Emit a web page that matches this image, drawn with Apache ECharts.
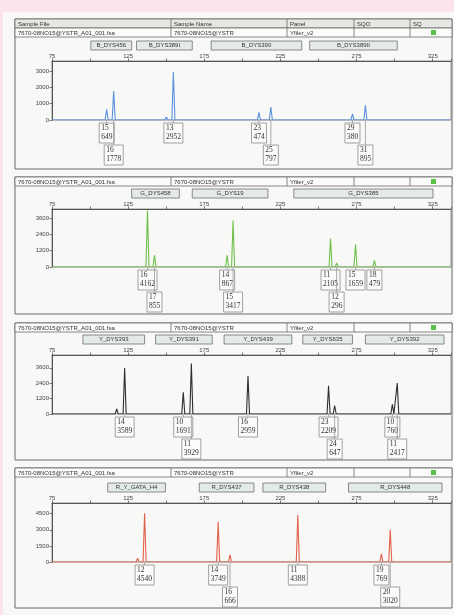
<!DOCTYPE html>
<html><head><meta charset="utf-8">
<script src="https://cdn.jsdelivr.net/npm/echarts@6/dist/echarts.min.js"></script>
<style>html,body{margin:0;padding:0;background:#f8f8f6}#c{width:454px;height:615px}</style>
</head><body><div id="c"></div><script>
// ---------- data ----------
const headerTitles = ['Sample File','Sample Name','Panel','SQO','SQ'];
const sampleFile = '7670-08NO15@YSTR_A01_001.fsa';
const sampleName = '7670-08NO15@YSTR';
const panelName = 'Yfiler_v2';
const xTickLabels = [75,125,175,225,275,325];

const p1YTicks = [0,1000,2000,3000];
const p1Markers = ['B_DYS456','B_DYS389I','B_DYS390','B_DYS389II'];
const p1MarkerStart = [100.5,130.5,179.5,244.2];
const p1MarkerEnd = [127.3,167.1,239.0,301.7];
const p1PeakBp = [110.9,115.5,150.1,154.7,210.9,218.7,272.3,276.2,280.8];
const p1PeakRfu = [649,1778,180,2952,474,797,380,120,895];
const p1Allele = ['15','16',null,'13','23','25','29',null,'31'];

const p2YTicks = [0,1200,2400,3600];
const p2Markers = ['G_DYS458','G_DYS19','G_DYS385'];
const p2MarkerStart = [127.3,167.1,233.8];
const p2MarkerEnd = [158.6,216.8,325.2];
const p2PeakBp = [133.8,137.7,142.3,190.0,193.9,257.9,261.9,274.3,286.7];
const p2PeakRfu = [120,4162,855,867,3417,2105,296,1659,479];
const p2Allele = [null,'16','17','14','15','11','12','15','18'];

const p3YTicks = [0,1200,2400,3600];
const p3Markers = ['Y_DYS393','Y_DYS391','Y_DYS439','Y_DYS635','Y_DYS392'];
const p3MarkerStart = [95.3,143.0,188.0,239.7,280.8];
const p3MarkerEnd = [135.8,180.2,232.5,272.3,332.4];
const p3PeakBp = [117.5,122.7,161.2,166.5,203.7,253.0,256.6,260.6,298.5,301.7];
const p3PeakRfu = [400,3589,1691,3929,2959,80,2209,647,760,2417];
const p3Allele = [null,'14','10','11','16',null,'23','24','10','11'];

const p4YTicks = [0,1500,3000,4500];
const p4Markers = ['R_Y_GATA_H4','R_DYS437','R_DYS438','R_DYS448'];
const p4MarkerStart = [111.6,171.7,213.5,269.7];
const p4MarkerEnd = [149.5,207.6,254.7,331.1];
const p4PeakBp = [131.2,135.8,184.1,191.9,231.8,236.4,291.3,297.1];
const p4PeakRfu = [350,4540,3749,666,70,4388,769,3020];
const p4Allele = [null,'12','14','16',null,'11','19','20'];

// ---------- layout / style ----------
const panels = [
  {yTicks:p1YTicks, markers:p1Markers, mStart:p1MarkerStart, mEnd:p1MarkerEnd, bp:p1PeakBp, rfu:p1PeakRfu, allele:p1Allele,
   color:'#5b92dc', frameTop:19, frameBottom:169, rowTop:28, header:true, plotTop:61, plotBottom:120, ymax:3620},
  {yTicks:p2YTicks, markers:p2Markers, mStart:p2MarkerStart, mEnd:p2MarkerEnd, bp:p2PeakBp, rfu:p2PeakRfu, allele:p2Allele,
   color:'#6fbf4b', frameTop:177, frameBottom:314, rowTop:177, header:false, plotTop:209, plotBottom:267, ymax:4270},
  {yTicks:p3YTicks, markers:p3Markers, mStart:p3MarkerStart, mEnd:p3MarkerEnd, bp:p3PeakBp, rfu:p3PeakRfu, allele:p3Allele,
   color:'#2e2e2e', frameTop:323, frameBottom:460, rowTop:323, header:false, plotTop:355, plotBottom:414, ymax:4600},
  {yTicks:p4YTicks, markers:p4Markers, mStart:p4MarkerStart, mEnd:p4MarkerEnd, bp:p4PeakBp, rfu:p4PeakRfu, allele:p4Allele,
   color:'#e3604b', frameTop:468, frameBottom:608, rowTop:468, header:false, plotTop:503, plotBottom:562, ymax:5500},
];
const PLOT_LEFT = 52, PLOT_RIGHT = 452, X_MIN = 75, X_MAX = 337;
const colX = [15,171,287,354,410,452];
const ROW_H = 9;
const SANS = '"Liberation Sans", Arial, sans-serif';
const SERIF = '"Liberation Serif", "Times New Roman", serif';
const PEAK_HALF = 1.0;

const grids = [], xAxes = [], yAxes = [], series = [], graphics = [];

// page edges (pink)
graphics.push({type:'rect', shape:{x:0,y:0,width:454,height:12}, style:{fill:'#fbe4ee'}, z:0});
graphics.push({type:'rect', shape:{x:0,y:0,width:3,height:615}, style:{fill:'#fbe4ee'}, z:0});

panels.forEach((p, i) => {
  // frame
  graphics.push({type:'rect', shape:{x:colX[0], y:p.frameTop, width:colX[5]-colX[0], height:p.frameBottom-p.frameTop},
    style:{fill:'none', stroke:'#6a6a6a', lineWidth:1}, z:1});
  // table rows
  const rows = [];
  if (p.header) rows.push({y:p.frameTop, vals:headerTitles, fill:'#e6e6e3'});
  rows.push({y:p.rowTop, vals:[sampleFile, sampleName, panelName, '', ''], fill:'#fbfbf9'});
  rows.forEach(r => {
    graphics.push({type:'rect', shape:{x:colX[0], y:r.y, width:colX[5]-colX[0], height:ROW_H},
      style:{fill:r.fill, stroke:'#6a6a6a', lineWidth:0.8}, z:2});
    for (let c = 1; c < colX.length - 1; c++) {
      graphics.push({type:'line', shape:{x1:colX[c], y1:r.y, x2:colX[c], y2:r.y+ROW_H},
        style:{stroke:'#6a6a6a', lineWidth:0.8}, z:3});
    }
    r.vals.forEach((t, c) => {
      if (!t) return;
      graphics.push({type:'text', x:colX[c]+3, y:r.y+ROW_H/2+0.5,
        style:{text:t, fontSize:6, fontFamily:SANS, fill:'#333', align:'left', verticalAlign:'middle'}, z:4});
    });
  });
  // SQ indicator
  graphics.push({type:'rect', shape:{x:431, y:p.rowTop+2, width:5, height:5}, style:{fill:'#58c444'}, z:4});

  grids.push({left:PLOT_LEFT, width:PLOT_RIGHT-PLOT_LEFT, top:p.plotTop, height:p.plotBottom-p.plotTop,
    show:true, borderColor:'#777', borderWidth:0.8, backgroundColor:'transparent'});
  xAxes.push({gridIndex:i, type:'value', position:'top', min:X_MIN, max:X_MAX, interval:25,
    axisLine:{show:true, onZero:false, lineStyle:{color:'#555', width:1}},
    axisTick:{show:true, length:2.5, lineStyle:{color:'#555', width:0.8}},
    axisLabel:{fontSize:6, fontFamily:SANS, color:'#444', margin:2,
      formatter:v => xTickLabels.includes(v) ? String(v) : ''},
    splitLine:{show:false}});
  yAxes.push({gridIndex:i, type:'value', min:0, max:p.ymax, interval:p.yTicks[1],
    axisLine:{show:true, lineStyle:{color:'#555', width:1}},
    axisTick:{show:true, length:2.5, lineStyle:{color:'#555', width:0.8},
      interval:0},
    axisLabel:{fontSize:6, fontFamily:SANS, color:'#444', margin:3, showMaxLabel:false,
      formatter:v => p.yTicks.includes(v) ? String(v) : ''},
    splitLine:{show:false}});

  // trace built from peaks
  const trace = [[X_MIN, 0]];
  p.bp.forEach((b, k) => { trace.push([b-PEAK_HALF, 0], [b, p.rfu[k]], [b+PEAK_HALF, 0]); });
  trace.push([X_MAX, 0]);
  series.push({type:'line', xAxisIndex:i, yAxisIndex:i, data:trace, showSymbol:false, symbol:'none',
    lineStyle:{color:p.color, width:1.1}, z:5, silent:true, animation:false});

  // peak label rows
  const labelData = [];
  let prevBp = null, prevRow = 1;
  p.bp.forEach((b, k) => {
    if (!p.allele[k]) return;
    let row = 0;
    if (prevBp !== null && b - prevBp < 10 && prevRow === 0) row = 1;
    labelData.push([b, p.rfu[k], row, k]);
    prevBp = b; prevRow = row;
  });
  series.push({type:'custom', xAxisIndex:i, yAxisIndex:i, data:labelData, clip:false, silent:true, animation:false, z:6,
    renderItem:(params, api) => {
      const k = api.value(3);
      const row = api.value(2);
      const pt = api.coord([api.value(0), 0]);
      const x = pt[0], base = pt[1];
      const a = p.allele[k], h = String(p.rfu[k]);
      const w = Math.max(a.length, h.length) * 4 + 3;
      const top = base + 3 + row * 22;
      return {type:'group', children:[
        {type:'line', shape:{x1:x, y1:base, x2:x, y2:top}, style:{stroke:'#8a8a8a', lineWidth:0.7}},
        {type:'rect', shape:{x:x-w/2, y:top, width:w, height:20}, style:{fill:'#fbfbf9', stroke:'#8a8a8a', lineWidth:0.8}},
        {type:'text', x:x-w/2+2, y:top+5.5, style:{text:a, fontSize:7.5, fontFamily:SERIF, fill:'#333', align:'left', verticalAlign:'middle'}},
        {type:'text', x:x-w/2+2, y:top+14.5, style:{text:h, fontSize:7.5, fontFamily:SERIF, fill:'#333', align:'left', verticalAlign:'middle'}}
      ]};
    }});

  // marker (bin) boxes above the plot
  const markerData = p.markers.map((m, k) => [p.mStart[k], p.mEnd[k], k]);
  series.push({type:'custom', xAxisIndex:i, yAxisIndex:i, data:markerData, clip:false, silent:true, animation:false, z:6,
    encode:{x:[0,1], y:-1},
    renderItem:(params, api) => {
      const k = api.value(2);
      const a = api.coord([api.value(0), 0]);
      const b = api.coord([api.value(1), 0]);
      const y = p.plotTop - 20;
      return {type:'group', children:[
        {type:'rect', shape:{x:a[0], y:y, width:b[0]-a[0], height:9}, style:{fill:'#e3eae8', stroke:'#707070', lineWidth:0.8}},
        {type:'text', x:(a[0]+b[0])/2, y:y+4.8, style:{text:p.markers[k], fontSize:6, fontFamily:SANS, fill:'#333', align:'center', verticalAlign:'middle'}}
      ]};
    }});
});

const chart = echarts.init(document.getElementById('c'));
chart.setOption({
  backgroundColor:'#f8f8f6',
  animation:false,
  grid:grids, xAxis:xAxes, yAxis:yAxes, series:series,
  graphic:{elements:graphics}
});
</script></body></html>
